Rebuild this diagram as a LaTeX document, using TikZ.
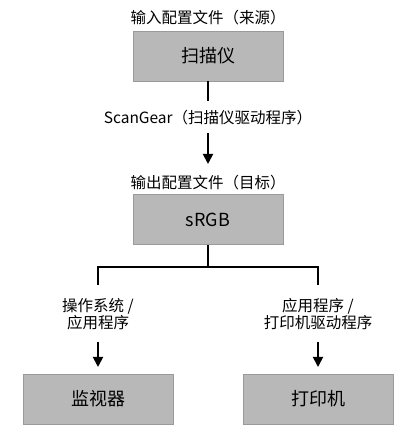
\documentclass[tikz,border=0pt]{standalone}
\usepackage{fontspec}
\setmainfont{Noto Sans CJK SC}
\usetikzlibrary{arrows.meta,positioning,shadows}

\definecolor{boxgray}{HTML}{B8B8B8}
\definecolor{boxedge}{HTML}{9A9A9A}

\begin{document}
\begin{tikzpicture}[x=1pt,y=1pt,>={Triangle[width=10pt,length=10pt]},
  devbox/.style={draw=boxedge,line width=0.6pt,fill=boxgray,minimum width=150pt,minimum height=50pt,inner sep=0pt,font=\fontsize{18}{20}\selectfont,drop shadow={shadow xshift=1pt,shadow yshift=-1pt,fill=black!45,opacity=0.6}},
  lbl/.style={align=center,inner sep=1pt,font=\fontsize{15.5}{17}\selectfont},
  conn/.style={line width=1.8pt}]
\useasboundingbox (0,0) rectangle (416,446);
% top: source profile
\node[lbl] (src_lbl) at (208,428) {输入配置文件（来源）};
\node[devbox] (scanner) at (208,390) {扫描仪};
\coordinate (drv_in) at (208,345);
\draw[conn] (scanner.south)--(drv_in);
\node[lbl] (drv_lbl) at (208,328) {ScanGear（扫描仪驱动程序）};
\coordinate (drv_out) at (208,313);
\coordinate (drv_tip) at (208,282);
% output profile
\node[lbl] (out_lbl) at (208,263) {输出配置文件（目标）};
\node[devbox] (srgb) at (208,226.5) {sRGB};
\draw[conn,->] (drv_out)--(drv_tip);
% split
\coordinate (split) at (208,179);
\coordinate (split_l) at (98,179);
\coordinate (split_r) at (318,179);
\coordinate (l_end) at (98,161);
\coordinate (r_end) at (318,161);
\draw[conn] (srgb.south)--(split);
\draw[conn] (l_end)--(split_l)--(split_r)--(r_end);
% left branch
\node[lbl] (os_lbl) at (98,132) {操作系统 /\\应用程序};
\node[devbox] (monitor) at (98,47) {监视器};
\coordinate (os_out) at (98,104);
\coordinate (os_tip) at (98,79);
\draw[conn,->] (os_out)--(os_tip);
% right branch
\node[lbl] (app_lbl) at (318,132) {应用程序 /\\打印机驱动程序};
\node[devbox] (printer) at (318,47) {打印机};
\coordinate (app_out) at (318,104);
\coordinate (app_tip) at (318,79);
\draw[conn,->] (app_out)--(app_tip);
\end{tikzpicture}
\end{document}
